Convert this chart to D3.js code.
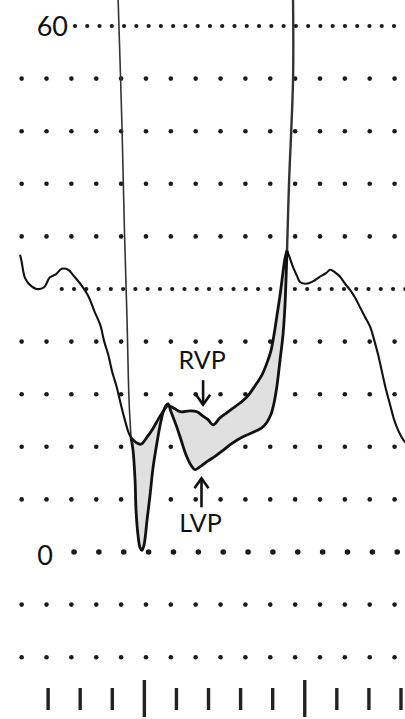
<!DOCTYPE html>
<html>
<head>
<meta charset="utf-8">
<script src="https://cdn.jsdelivr.net/npm/d3@7"></script>
<style>
  body { margin: 0; background: #fff; }
  svg { display: block; }
  .lbl { font-family: Lato, "Open Sans", sans-serif; fill: #111; }
</style>
</head>
<body>
<div id="chart"></div>
<script>
// time in ms (tick marks every 40 ms), pressure in mmHg
var gridRows = [-12, -6, 0, 6, 12, 18, 24, 30, 36, 42, 48, 54, 60];
var denseRows = [30, 60];
var tickTimes = [0, 40, 80, 120, 160, 200, 240, 280, 320, 360, 400, 440];
var tallTicks = [120, 320];
var axisLabels = [{ p: 60, text: "60" }, { p: 0, text: "0" }];

// single trace before the split
var preTrace = [
  [-35, 33.9], [-33, 33.1], [-29, 31.3], [-23, 30.5], [-14, 30.0], [-5, 30.2],
  [2, 31.3], [10, 31.7], [17, 32.3], [25, 32.2], [32, 31.5], [40, 30.6],
  [50, 29.2], [58, 27.4], [65, 25.9], [70, 24.0], [75, 22.5], [80, 20.5],
  [85, 19.0], [90, 17.1], [95, 15.3], [100, 13.7], [103.4, 13.0]
];

var rvp = [
  [103.4, 13.0], [109.6, 12.5], [115.8, 12.3], [123.3, 13.1], [130.8, 14.1],
  [138.3, 15.3], [144.5, 16.2], [149.5, 16.7], [157.0, 16.4], [164.5, 16.0],
  [176.9, 16.1], [185.6, 16.0], [193.2, 15.5], [199.4, 15.1], [205.6, 14.5],
  [214.3, 15.3], [223.1, 15.9], [230.5, 16.4], [239.3, 17.0], [248.0, 17.7],
  [260.5, 19.3], [266.7, 20.2], [273.0, 21.6], [278.0, 23.0], [281.7, 24.8],
  [285.4, 27.0], [289.2, 29.3], [291.6, 31.0], [295.4, 33.5], [297.9, 34.4]
];

var lvp = [
  [103.4, 13.0], [105.9, 11.6], [108.4, 8.2], [109.6, 4.8], [112.1, 1.9],
  [114.6, 0.5], [117.1, 0.2], [119.6, 0.8], [123.3, 3.6], [127.1, 6.5],
  [130.8, 9.6], [135.8, 12.5], [139.5, 14.4], [143.3, 15.9], [147.0, 16.7],
  [149.5, 16.9], [153.2, 16.0], [159.5, 14.5], [165.7, 12.8], [171.9, 11.1],
  [178.2, 9.9], [183.2, 9.4], [190.6, 9.8], [199.4, 10.4], [208.1, 10.9],
  [218.1, 11.6], [229.3, 12.4], [241.8, 13.1], [254.2, 13.6], [265.5, 14.1],
  [272.9, 14.8], [277.9, 15.7], [281.7, 17.0], [285.4, 19.0], [289.2, 21.9],
  [292.9, 24.8], [295.4, 28.2], [296.6, 31.0], [297.9, 34.4]
];

// single trace after the peak
var postTrace = [
  [297.9, 34.4], [301.6, 33.5], [305.4, 32.5], [310.3, 31.5], [314.1, 30.8],
  [320.3, 30.6], [326.6, 30.7], [332.8, 31.0], [339.0, 31.4], [346.5, 31.8],
  [351.5, 32.2], [357.8, 31.9], [364.0, 31.4], [370.3, 30.6], [376.5, 29.9],
  [382.8, 29.0], [389.0, 27.9], [395.2, 26.8], [401.5, 25.7], [406.5, 24.2],
  [411.5, 22.5], [416.4, 20.5], [421.4, 18.5], [426.4, 16.8], [431.4, 15.1],
  [436.4, 13.9], [441.4, 13.0], [445.1, 12.5]
];

// the two vertical spikes (ECG markers)
var spike1 = [[87.3, 63], [92.2, 48.2], [95.3, 36.2], [98.4, 26.5], [100.9, 17.3], [103.4, 13.0]];
var spike2 = [[305.4, 63], [305.4, 53.9], [300.4, 42.1], [297.9, 34.4]];

// annotations
var notes = [
  { text: "RVP", t: 192, p: 20.9, arrowFrom: 19.6, arrowTo: 16.8, dir: "down" },
  { text: "LVP", t: 190, p: 2.3, arrowFrom: 5.1, arrowTo: 8.4, dir: "up" }
];

var svgWidth = 405;
var svgHeight = 719;

var svg = d3.select("#chart")
  .append("svg")
  .attr("width", svgWidth)
  .attr("height", svgHeight);

var x = d3.scaleLinear().domain([-60, 445]).range([0, 405]);
var y = d3.scaleLinear().domain([0, 60]).range([552, 26]);

var line = d3.line()
  .x(d => x(d[0]))
  .y(d => y(d[1]))
  .curve(d3.curveCatmullRom.alpha(0.5));

// dotted grid rows
gridRows.forEach(function(p) {
  var dense = denseRows.indexOf(p) >= 0;
  var start = (p === 60) ? 33.5 : (p === 30) ? 17 : (p === 0) ? 32.3 : -33;
  var step = dense ? 15.3 : 31;
  var cols = d3.range(start, 446, step);
  svg.append("g")
    .selectAll("circle")
    .data(cols)
    .enter()
    .append("circle")
    .attr("cx", d => x(d))
    .attr("cy", y(p))
    .attr("r", p === 0 ? 2.8 : dense ? 2.1 : 2.3)
    .attr("fill", "#1a1a1a");
});

// time ticks at the bottom
svg.append("g")
  .selectAll("line")
  .data(tickTimes)
  .enter()
  .append("line")
  .attr("x1", d => x(d))
  .attr("x2", d => x(d))
  .attr("y1", d => tallTicks.indexOf(d) >= 0 ? 680 : 688)
  .attr("y2", d => tallTicks.indexOf(d) >= 0 ? 717 : 710)
  .attr("stroke", "#222")
  .attr("stroke-width", 3.4);

// shaded gap between RVP and LVP
var band = rvp.concat(lvp.slice().reverse());
svg.append("path")
  .attr("d", d3.line().x(d => x(d[0])).y(d => y(d[1])).curve(d3.curveCatmullRomClosed.alpha(0.5))(band))
  .attr("fill", "#e0e0e0");

// spikes
[spike1, spike2].forEach(function(s, i) {
  svg.append("path")
    .attr("d", line(s))
    .attr("fill", "none")
    .attr("stroke", "#333")
    .attr("stroke-width", i === 0 ? 1.6 : 2.4);
});

// traces
[preTrace, postTrace].forEach(function(s) {
  svg.append("path")
    .attr("d", line(s))
    .attr("fill", "none")
    .attr("stroke", "#111")
    .attr("stroke-width", 2.1)
    .attr("stroke-linejoin", "round");
});

[rvp, lvp].forEach(function(s) {
  svg.append("path")
    .attr("d", line(s))
    .attr("fill", "none")
    .attr("stroke", "#111")
    .attr("stroke-width", 2.8)
    .attr("stroke-linejoin", "round");
});

// axis labels
svg.append("g")
  .selectAll("text")
  .data(axisLabels)
  .enter()
  .append("text")
  .attr("class", "lbl")
  .attr("x", d => d.p === 60 ? 68 : 53)
  .attr("y", d => y(d.p) + (d.p === 60 ? 10 : 12.5))
  .attr("text-anchor", "end")
  .attr("font-size", 27)
  .text(d => d.text);

// annotations with arrows
notes.forEach(function(n) {
  var ax = x(n.t) + 1;
  svg.append("text")
    .attr("class", "lbl")
    .attr("x", x(n.t))
    .attr("y", y(n.p))
    .attr("text-anchor", "middle")
    .attr("font-size", 25)
    .text(n.text);

  var y0 = y(n.arrowFrom), y1 = y(n.arrowTo);
  var h = n.dir === "down" ? -10 : 10;
  svg.append("line")
    .attr("x1", ax).attr("x2", ax)
    .attr("y1", y0).attr("y2", y1)
    .attr("stroke", "#111")
    .attr("stroke-width", 2.6);
  svg.append("path")
    .attr("d", `M${ax - 7},${y1 + h} L${ax},${y1} L${ax + 7},${y1 + h}`)
    .attr("fill", "none")
    .attr("stroke", "#111")
    .attr("stroke-width", 2.6);
});
</script>
</body>
</html>
